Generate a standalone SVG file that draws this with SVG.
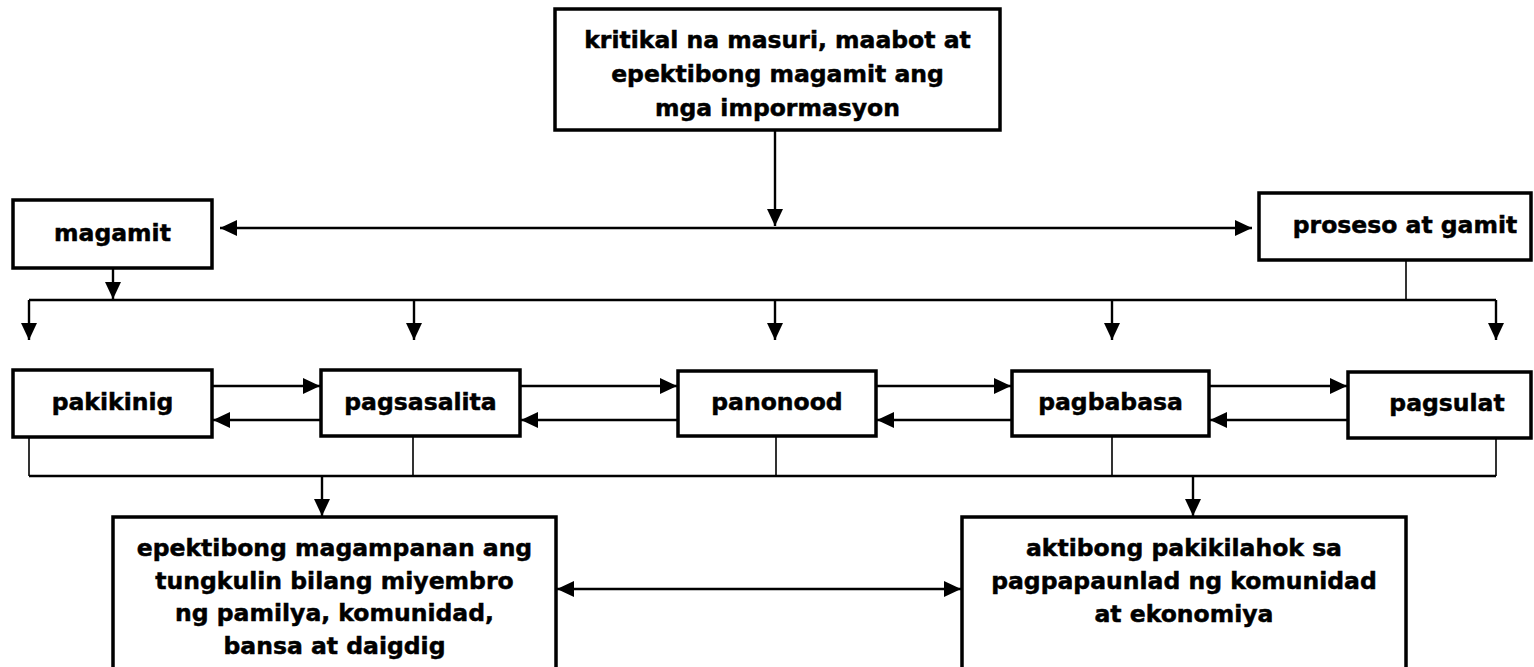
<svg xmlns="http://www.w3.org/2000/svg" width="1534" height="667" viewBox="0 0 1534 667">
<style>
  .box { fill: #ffffff; stroke: #000000; stroke-width: 3.5; }
  .t { font-family: "DejaVu Sans", Verdana, sans-serif; font-weight: bold; font-size: 23.5px; fill: #000000; stroke: #000000; stroke-width: 0.5; text-anchor: middle; }
  .c { fill: none; stroke: #000000; stroke-width: 2.4; }
  .thin { fill: none; stroke: #000000; stroke-width: 1.6; }
</style>
<defs>
  <marker id="ah" markerUnits="userSpaceOnUse" markerWidth="17" markerHeight="16" refX="17" refY="8" orient="auto-start-reverse" viewBox="0 0 17 16">
    <path d="M0,0 L17,8 L0,16 Z" fill="#000000"/>
  </marker>
</defs>
<rect width="1534" height="667" fill="#ffffff"/>

<g id="connectors">
  <path class="c" d="M775,131 V226" marker-end="url(#ah)"/>
  <path class="c" d="M220,228 H1252" marker-start="url(#ah)" marker-end="url(#ah)"/>
  <path class="c" d="M113,268 V299" marker-end="url(#ah)"/>
  <path class="c" d="M29,300 H1496"/>
  <path class="thin" d="M1406,260 V300"/>
  <path class="c" d="M29,300 V340" marker-end="url(#ah)"/>
  <path class="c" d="M414,300 V340" marker-end="url(#ah)"/>
  <path class="c" d="M775,300 V340" marker-end="url(#ah)"/>
  <path class="c" d="M1112,300 V340" marker-end="url(#ah)"/>
  <path class="c" d="M1496,300 V340" marker-end="url(#ah)"/>

  <path class="c" d="M212,386 H320" marker-end="url(#ah)"/>
  <path class="c" d="M320,420 H213" marker-end="url(#ah)"/>
  <path class="c" d="M520,386 H677" marker-end="url(#ah)"/>
  <path class="c" d="M677,420 H521" marker-end="url(#ah)"/>
  <path class="c" d="M876,386 H1011" marker-end="url(#ah)"/>
  <path class="c" d="M1011,420 H877" marker-end="url(#ah)"/>
  <path class="c" d="M1209,386 H1347" marker-end="url(#ah)"/>
  <path class="c" d="M1347,420 H1210" marker-end="url(#ah)"/>

  <path class="thin" d="M29,437 V476 M413,437 V476 M776,437 V476 M1112,437 V476 M1496,437 V476"/>
  <path class="c" d="M29,476 H1496"/>
  <path class="c" d="M322,476 V516" marker-end="url(#ah)"/>
  <path class="c" d="M1193,476 V516" marker-end="url(#ah)"/>
  <path class="c" d="M557,589 H961" marker-start="url(#ah)" marker-end="url(#ah)"/>
</g>

<g id="node-top">
  <rect class="box" x="555" y="9" width="445" height="121"/>
  <text class="t" x="777.5" y="48">kritikal na masuri, maabot at</text>
  <text class="t" x="777.5" y="82">epektibong magamit ang</text>
  <text class="t" x="777.5" y="116">mga impormasyon</text>
</g>
<g id="node-magamit">
  <rect class="box" x="13" y="200" width="199" height="68"/>
  <text class="t" x="112.5" y="241">magamit</text>
</g>
<g id="node-proseso">
  <rect class="box" x="1259" y="193" width="272" height="67"/>
  <text class="t" x="1405" y="233">proseso at gamit</text>
</g>
<g id="node-pakikinig">
  <rect class="box" x="13" y="370" width="199" height="67"/>
  <text class="t" x="112.5" y="410">pakikinig</text>
</g>
<g id="node-pagsasalita">
  <rect class="box" x="321" y="370" width="199" height="66"/>
  <text class="t" x="420.5" y="410">pagsasalita</text>
</g>
<g id="node-panonood">
  <rect class="box" x="678" y="371" width="198" height="65"/>
  <text class="t" x="777" y="410">panonood</text>
</g>
<g id="node-pagbabasa">
  <rect class="box" x="1012" y="371" width="197" height="65"/>
  <text class="t" x="1110.5" y="410">pagbabasa</text>
</g>
<g id="node-pagsulat">
  <rect class="box" x="1348" y="372" width="183" height="66"/>
  <text class="t" x="1447" y="411">pagsulat</text>
</g>
<g id="node-tungkulin">
  <rect class="box" x="113" y="517" width="443" height="170"/>
  <text class="t" x="334.5" y="556">epektibong magampanan ang</text>
  <text class="t" x="334.5" y="589">tungkulin bilang miyembro</text>
  <text class="t" x="334.5" y="621">ng pamilya, komunidad,</text>
  <text class="t" x="334.5" y="654">bansa at daigdig</text>
</g>
<g id="node-pakikilahok">
  <rect class="box" x="962" y="517" width="444" height="170"/>
  <text class="t" x="1184" y="556">aktibong pakikilahok sa</text>
  <text class="t" x="1184" y="589">pagpapaunlad ng komunidad</text>
  <text class="t" x="1184" y="622">at ekonomiya</text>
</g>
</svg>
